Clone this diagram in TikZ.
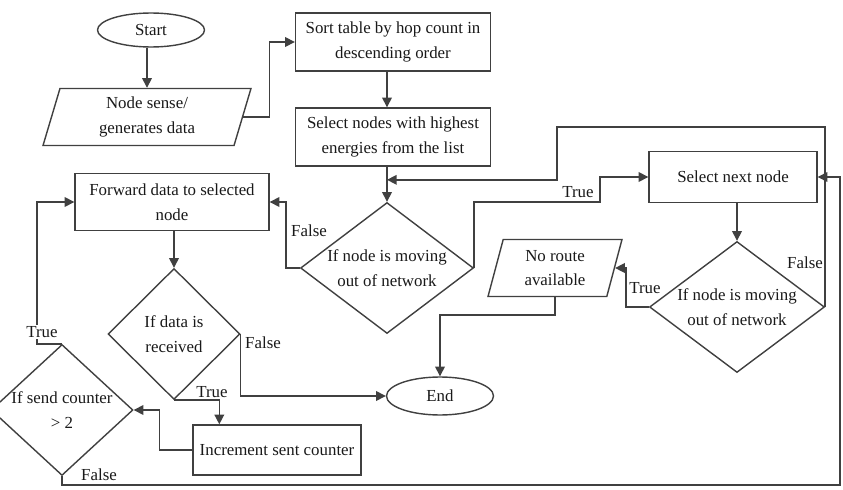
\documentclass[tikz,border=0pt]{standalone}
\usepackage{fontspec}
\setmainfont{Liberation Serif}
\usetikzlibrary{shapes.geometric,arrows.meta}

\begin{document}
\begin{tikzpicture}[x=0.02cm,y=-0.02cm,line width=0.8pt,color=black!75,text=black!90,
    >={Triangle[length=5.5pt,width=5.5pt]},
    font=\fontsize{9.6}{14}\selectfont,
    box/.style={draw,rectangle,align=center,inner sep=0pt},
    term/.style={draw,ellipse,minimum width=2.14cm,inner sep=0pt},
    io/.style={draw,trapezium,trapezium left angle=67,trapezium right angle=113,
        trapezium stretches body,align=center,inner sep=0pt,minimum height=1.14cm},
    decision/.style={draw,diamond,inner sep=0pt,minimum height=2.62cm},
    txt/.style={align=center,inner sep=0pt},
    lbl/.style={inner sep=1pt}]
\useasboundingbox (0,0) rectangle (843,490);

% blocks
\node[term,minimum height=0.68cm] (start) at (151,30) {Start};
\node[io,minimum width=4.16cm] (sense) at (147,117) {Node sense/\\generates data};
\node[box,minimum width=3.9cm,minimum height=1.16cm] (sort) at (393,42) {Sort table by hop count in\\descending order};
\node[box,minimum width=3.9cm,minimum height=1.16cm] (select) at (393,137) {Select nodes with highest\\energies from the list};
\node[decision,minimum width=3.46cm,label={[txt]center:If node is moving\\out of network}] (move1) at (387,268) {};
\node[box,minimum width=3.88cm,minimum height=1.14cm] (fwd) at (172,202) {Forward data to selected\\node};
\node[decision,minimum width=2.64cm,label={[txt]center:If data is\\received}] (recv) at (174,334) {};
\node[decision,minimum width=2.84cm,label={[txt]center:If send counter\\> 2}] (count) at (62,410) {};
\node[box,minimum width=3.36cm,minimum height=1.0cm] (inc) at (277,450) {Increment sent counter};
\node[box,minimum width=3.36cm,minimum height=1.02cm] (next) at (733,177) {Select next node};
\node[decision,minimum width=3.5cm,label={[txt]center:If node is moving\\out of network}] (move2) at (737,307) {};
\node[io,minimum width=2.68cm] (noroute) at (555,268) {No route\\available};
\node[term,minimum height=0.76cm] (end) at (440,396) {End};
\coordinate (corner) at (840,485);

% connectors
\draw[->] (start.south -| sense.north) -- (sense.north);
\draw[->] (sense.east) -- ++(26,0) |- (sort.west);
\draw[->] (sort.south -| move1.north) -- (select.north -| move1.north);
\draw[->] (select.south -| move1.north) -- (move1.north);
\draw[->] (move1.west) -- ++(-14,0) |- (fwd.east);
\draw[->] (fwd.south -| recv.north) -- (recv.north);
\draw[->] (recv.east) |- (end.west);
\draw[->] (recv.south) -| ([xshift=0.54cm]inc.north west);
\draw[->] (inc.west) -- ++(-33,0) |- (count.east);
\draw[->] (count.north) -- ++(-25,0) |- (fwd.west);
\draw[->] (count.south) |- (corner) |- (next.east);
\draw[->] (move1.east) -- ++(0,-66) -- ++(126,0) |- (next.west);
\draw[->] (next.south -| move2.north) -- (move2.north);
\draw[->] (move2.west) -- ++(-23,0) |- (noroute.east);
\draw[->] (noroute.south) -- ++(0,18) -| (end.north);
\draw[->] (move2.east) -- ++(0,-180) -- ++(-268,0) |- ([yshift=0.44cm]move1.north);

% branch labels
\node[lbl] (f1) at (309,231) {False};
\node[lbl] (f2) at (263,343) {False};
\node[lbl] (t2) at (212,392) {True};
\node[lbl,fill=white] (t3) at (42,332) {True};
\node[lbl] (f3) at (99,475) {False};
\node[lbl] (t1) at (578,192) {True};
\node[lbl] (t4) at (645,288) {True};
\node[lbl] (f4) at (805,263) {False};
\end{tikzpicture}
\end{document}
